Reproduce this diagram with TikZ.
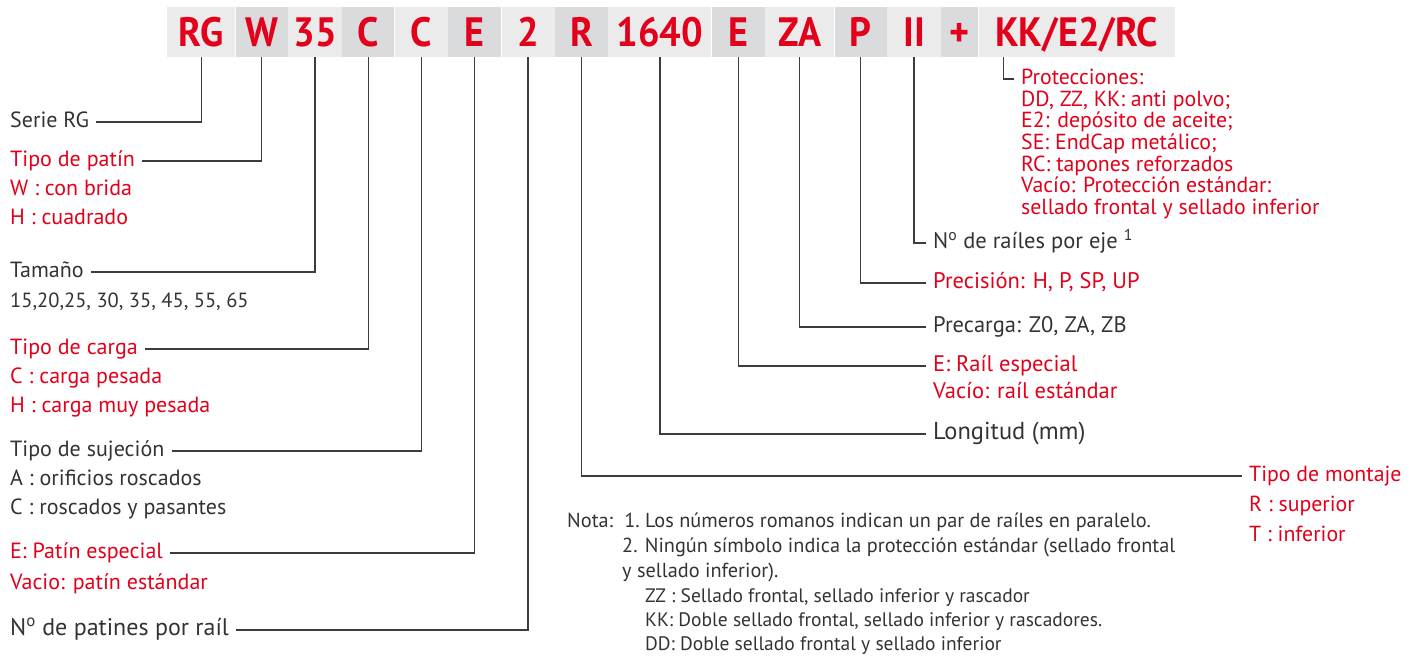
\documentclass[tikz,border=0pt]{standalone}
\usepackage{fontspec}
\setmainfont{PT Sans}
\newfontfamily\codefont{PT Sans}[FakeStretch=0.93]
\usepackage{xcolor}
\usepackage{tikz}
\usetikzlibrary{positioning}
\definecolor{hwred}{HTML}{E2001A}
\definecolor{hwtext}{HTML}{333333}
\definecolor{hwline}{HTML}{3C3C3C}
\definecolor{cellA}{HTML}{EBEBEB}
\definecolor{cellB}{HTML}{DADBDC}

\begin{document}
\begin{tikzpicture}[x=1pt,y=-1pt,
  cell/.style={anchor=west,minimum height=50pt,inner sep=0pt,text height=29pt,text depth=0pt,
    text=hwred,font=\codefont\bfseries\fontsize{41}{41}\selectfont},
  lab/.style={anchor=west,inner xsep=7pt,inner ysep=0pt,text height=15pt,text depth=4pt,
    text=hwtext,font=\fontsize{22}{24}\selectfont},
  hot/.style={text=hwred},
  rlab/.style={lab,font=\fontsize{22.5}{26}\selectfont},
  note/.style={lab,font=\fontsize{20.3}{22}\selectfont},
  subnote/.style={lab,font=\fontsize{19.5}{20}\selectfont},
  prot/.style={lab,hot,font=\fontsize{21.8}{22}\selectfont},
  lead/.style={draw=hwline,line width=1.4pt}]
  \useasboundingbox (0,0) rectangle (1421,657);

  \node[cell,fill=cellA,minimum width=68pt] (rg) at (167,32) {RG};
  \node[cell,fill=cellB,minimum width=52pt,right=0pt of rg] (w) {W};
  \node[cell,fill=cellA,minimum width=54pt,right=0pt of w] (size) {35};
  \node[cell,fill=cellB,minimum width=52pt,right=0pt of size] (load) {C};
  \node[cell,fill=cellA,minimum width=53pt,right=0pt of load] (fix) {C};
  \node[cell,fill=cellB,minimum width=53pt,right=0pt of fix] (spec) {E};
  \node[cell,fill=cellA,minimum width=53pt,right=0pt of spec] (blocks) {2};
  \node[cell,fill=cellB,minimum width=53pt,right=0pt of blocks] (mount) {R};
  \node[cell,fill=cellA,minimum width=103pt,right=0pt of mount] (len) {1640};
  \node[cell,fill=cellB,minimum width=53pt,right=0pt of len] (rail) {E};
  \node[cell,fill=cellA,minimum width=69pt,right=0pt of rail] (pre) {ZA};
  \node[cell,fill=cellB,minimum width=52pt,right=0pt of pre] (prec) {P};
  \node[cell,fill=cellA,minimum width=54pt,right=0pt of prec] (axis) {II};
  \node[cell,fill=cellB,minimum width=37pt,right=0pt of axis] (plus) {+};
  \node[cell,fill=cellA,minimum width=196pt,right=0pt of plus] (seal) {KK/E2/RC};
  \coordinate (sealtick) at ([xshift=25pt]seal.south west);

  \node[lab] (serie) at (3,122) {Serie RG};
  \node[lab,hot] (patin) at (3,161) {Tipo de patín};
  \node[lab,hot] (patinW) at (3,190) {W : con brida};
  \node[lab,hot] (patinH) at (3,219) {H : cuadrado};
  \node[lab] (tam) at (3,272) {Tamaño};
  \node[lab,font=\fontsize{20.5}{22}\selectfont] (tamval) at (3,302) {15,20,25, 30, 35, 45, 55, 65};
  \node[lab,hot] (carga) at (3,349) {Tipo de carga};
  \node[lab,hot] (cargaC) at (3,378) {C : carga pesada};
  \node[lab,hot] (cargaH) at (3,407) {H : carga muy pesada};
  \node[lab] (suj) at (3,451) {Tipo de sujeción};
  \node[lab] (sujA) at (3,480) {A : orificios roscados};
  \node[lab] (sujC) at (3,509) {C : roscados y pasantes};
  \node[lab,hot] (pesp) at (3,553) {E: Patín especial};
  \node[lab,hot] (pvac) at (3,584) {Vacio: patín estándar};
  \node[lab,font=\fontsize{24}{28}\selectfont] (npat) at (3,630) {N\textsuperscript{o} de patines por raíl};

  \node[prot] (protA) at (1014,79) {Protecciones:};
  \node[prot] (protB) at (1014,101) {DD, ZZ, KK: anti polvo;};
  \node[prot] (protC) at (1014,122) {E2: depósito de aceite;};
  \node[prot] (protD) at (1014,144) {SE: EndCap metálico;};
  \node[prot] (protE) at (1014,166) {RC: tapones reforzados};
  \node[prot] (protF) at (1014,187) {Vacío: Protección estándar:};
  \node[prot] (protG) at (1014,209) {sellado frontal y sellado inferior};

  \node[rlab] (railes) at (926,243) {N\textsuperscript{o} de raíles por eje\ \textsuperscript{1}};
  \node[rlab,hot] (precis) at (926,283) {Precisión: H, P, SP, UP};
  \node[rlab] (precar) at (926,327) {Precarga: Z0, ZA, ZB};
  \node[rlab,hot] (resp) at (926,366) {E: Raíl especial};
  \node[rlab,hot] (rvac) at (926,393) {Vacío: raíl estándar};
  \node[rlab,font=\fontsize{24.5}{28}\selectfont] (longi) at (926,434) {Longitud (mm)};
  \node[lab,hot,font=\fontsize{21.8}{26}\selectfont] (montaje) at (1242,476) {Tipo de montaje};
  \node[lab,hot,font=\fontsize{21.8}{26}\selectfont] (montR) at (1242,506) {R : superior};
  \node[lab,hot,font=\fontsize{21.8}{26}\selectfont] (montT) at (1242,536) {T : inferior};

  \node[note] (nota1) at (560,522) {Nota:\hspace{0.55em}1.\ Los números romanos indican un par de raíles en paralelo.};
  \node[note] (nota2) at (615,547) {2. Ningún símbolo indica la protección estándar (sellado frontal};
  \node[note] (nota3) at (615,572) {y sellado inferior).};
  \node[subnote] (nota4) at (638,597) {ZZ : Sellado frontal, sellado inferior y rascador};
  \node[subnote] (nota5) at (638,621) {KK: Doble sellado frontal, sellado inferior y rascadores.};
  \node[subnote] (nota6) at (638,645) {DD: Doble sellado frontal y sellado inferior};

  \draw[lead] (rg) |- (serie);
  \draw[lead] (w) |- (patin);
  \draw[lead] (size) |- (tam);
  \draw[lead] (load) |- (carga);
  \draw[lead] (fix) |- (suj);
  \draw[lead] (spec) |- (pesp);
  \draw[lead] (blocks) |- (npat);
  \draw[lead] (mount) |- (montaje);
  \draw[lead] (len) |- (longi);
  \draw[lead] (rail) |- (resp);
  \draw[lead] (pre) |- (precar);
  \draw[lead] (prec) |- (precis);
  \draw[lead] (axis) |- (railes);
  \draw[lead] (sealtick) |- (protA);
\end{tikzpicture}
\end{document}
